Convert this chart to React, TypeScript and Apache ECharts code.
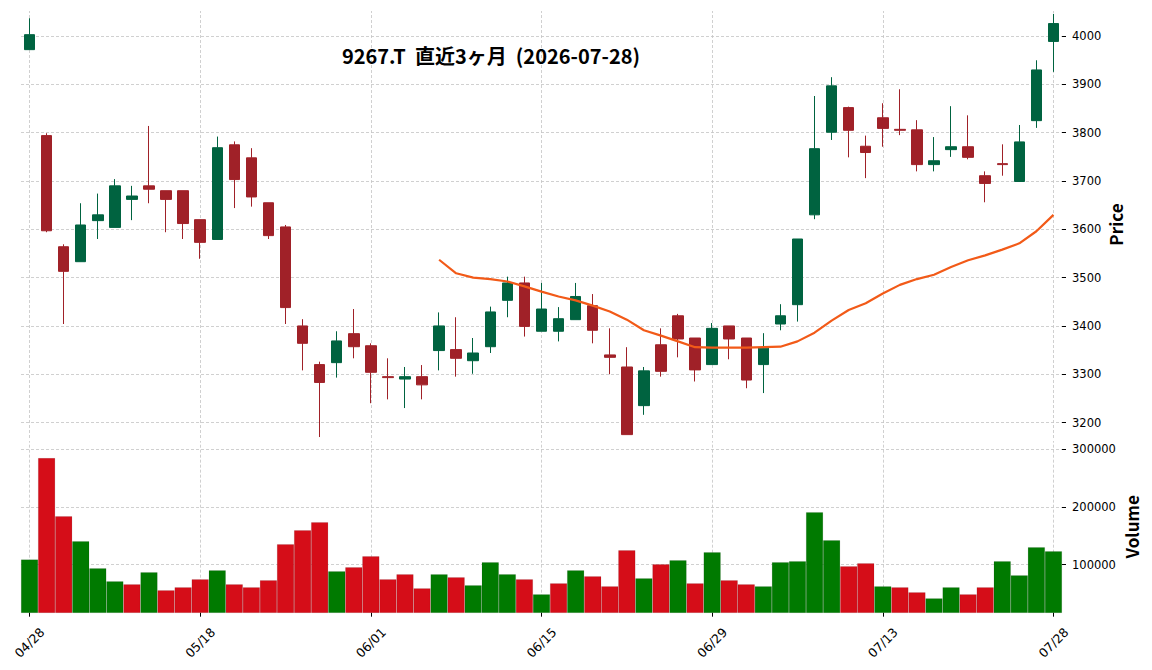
import React, { useEffect, useRef } from 'react';
import * as echarts from 'echarts';

const dates = [
  '04/28', '04/30', '05/01', '05/07', '05/08', '05/11', '05/12', '05/13', '05/14', '05/15',
  '05/18', '05/19', '05/20', '05/21', '05/22', '05/25', '05/26', '05/27', '05/28', '05/29',
  '06/01', '06/02', '06/03', '06/04', '06/05', '06/08', '06/09', '06/10', '06/11', '06/12',
  '06/15', '06/16', '06/17', '06/18', '06/19', '06/22', '06/23', '06/24', '06/25', '06/26',
  '06/29', '06/30', '07/01', '07/02', '07/03', '07/06', '07/07', '07/08', '07/09', '07/10',
  '07/13', '07/14', '07/15', '07/16', '07/17', '07/21', '07/22', '07/23', '07/24', '07/27',
  '07/28',
];

const opens = [
  3972, 3794, 3564, 3533, 3618, 3604, 3662, 3690, 3680, 3680,
  3620, 3579, 3775, 3748, 3655, 3605, 3400, 3320, 3324, 3384,
  3359, 3295, 3290, 3295, 3349, 3351, 3328, 3357, 3453, 3489,
  3389, 3389, 3413, 3442, 3340, 3315, 3235, 3361, 3421, 3375,
  3320, 3400, 3375, 3320, 3404, 3444, 3630, 3801, 3852, 3772,
  3831, 3807, 3806, 3734, 3765, 3771, 3711, 3736, 3699, 3825,
  3989,
];
const closes = [
  4003, 3597, 3513, 3609, 3630, 3690, 3669, 3683, 3662, 3612,
  3573, 3769, 3703, 3667, 3587, 3438, 3364, 3283, 3369, 3357,
  3304, 3293, 3295, 3278, 3400, 3333, 3344, 3429, 3489, 3399,
  3435, 3415, 3461, 3391, 3335, 3175, 3307, 3306, 3373, 3309,
  3395, 3373, 3288, 3354, 3421, 3580, 3767, 3897, 3805, 3759,
  3809, 3805, 3734, 3742, 3771, 3749, 3695, 3734, 3781, 3930,
  4026,
];
const lows = [
  3972, 3594, 3404, 3533, 3580, 3604, 3619, 3654, 3594, 3580,
  3539, 3579, 3644, 3647, 3580, 3404, 3308, 3170, 3293, 3333,
  3240, 3248, 3230, 3248, 3308, 3295, 3301, 3344, 3418, 3378,
  3389, 3368, 3413, 3364, 3300, 3175, 3216, 3295, 3335, 3285,
  3320, 3331, 3271, 3261, 3391, 3409, 3621, 3785, 3749, 3706,
  3771, 3795, 3720, 3720, 3750, 3745, 3656, 3711, 3699, 3810,
  3926,
];
const highs = [
  4037, 3799, 3569, 3654, 3674, 3704, 3690, 3814, 3680, 3680,
  3620, 3792, 3782, 3768, 3655, 3609, 3414, 3326, 3389, 3435,
  3364, 3333, 3315, 3319, 3428, 3418, 3375, 3440, 3502, 3502,
  3489, 3439, 3489, 3466, 3395, 3356, 3315, 3395, 3425, 3375,
  3406, 3400, 3375, 3385, 3445, 3580, 3876, 3915, 3854, 3794,
  3861, 3890, 3826, 3791, 3855, 3836, 3720, 3776, 3816, 3950,
  4046,
];

const volumes = [
  109000, 284900, 184000, 140600, 93600, 71000, 65800, 86700, 55400, 60600,
  74500, 90100, 65800, 60600, 72800, 135400, 159700, 173600, 88400, 95400,
  114500, 74500, 83200, 58800, 83200, 78000, 64100, 104100, 83200, 74500,
  48400, 67500, 90100, 79700, 62300, 124900, 76200, 100600, 107500, 67500,
  121400, 72800, 65800, 62300, 104100, 105800, 191000, 142300, 97100, 102300,
  62300, 60600, 51900, 41400, 60600, 48400, 60600, 105800, 81400, 130100,
  123200,
];
// 1 = close above previous close (green volume), 0 = below (red volume)
const volumeUp = [
  1, 0, 0, 1, 1, 1, 0, 1, 0, 0,
  0, 1, 0, 0, 0, 0, 0, 0, 1, 0,
  0, 0, 0, 0, 1, 0, 1, 1, 1, 0,
  1, 0, 1, 0, 0, 0, 1, 0, 1, 0,
  1, 0, 0, 1, 1, 1, 1, 1, 0, 0,
  1, 0, 0, 1, 1, 0, 0, 1, 1, 1,
  1,
];

const ma25 = [
  null, null, null, null, null, null, null, null, null, null,
  null, null, null, null, null, null, null, null, null, null,
  null, null, null, null, 3537, 3509, 3500, 3497, 3492, 3482,
  3471, 3461, 3453, 3442, 3430, 3413, 3391, 3380, 3368, 3356,
  3355, 3355, 3355, 3356, 3357, 3368, 3386, 3411, 3433, 3447,
  3467, 3485, 3497, 3506, 3522, 3536, 3546, 3558, 3571, 3596,
  3630,
];

const gridDates = ['04/28', '05/18', '06/01', '06/15', '06/29', '07/13', '07/28'];

const TITLE = '9267.T  直近3ヶ月  (2026-07-28)';

const UP = '#006340';
const DOWN = '#a02128';
const VOL_UP = '#007a00';
const VOL_DOWN = '#d50d18';
const GRID_COLOR = '#c4c4c4';

export default function App() {
  const ref = useRef<HTMLDivElement>(null);

  useEffect(() => {
    if (!ref.current) return;
    const chart = echarts.init(ref.current, null, { renderer: 'svg' });

    const candleData = dates.map((_, i) => [opens[i], closes[i], lows[i], highs[i]]);
    const volData = volumes.map((v, i) => ({
      value: v,
      itemStyle: { color: volumeUp[i] ? VOL_UP : VOL_DOWN },
    }));
    const vLines = gridDates.map((d) => ({ xAxis: d }));
    const markLineCommon = {
      silent: true,
      z: 0,
      symbol: ['none', 'none'],
      label: { show: false },
      lineStyle: { type: [3, 2], color: GRID_COLOR, width: 0.8 },
      emphasis: { disabled: true },
      animation: false,
      data: vLines,
    };
    const tickFont = { fontFamily: 'DejaVu Sans', fontSize: 11.5, color: '#000' };
    const nameFont = { fontFamily: 'Noto Sans CJK JP', fontSize: 17, fontWeight: 'bold', color: '#000' };
    const splitLine = {
      show: true,
      showMinLine: false,
      showMaxLine: false,
      lineStyle: { type: [3, 2], color: GRID_COLOR, width: 0.8 },
    };
    const plain = (v: number) => String(v);

    chart.setOption({
      animation: false,
      backgroundColor: '#ffffff',
      graphic: [
        {
          type: 'text',
          x: 491,
          y: 55,
          style: {
            text: TITLE,
            textAlign: 'center',
            textVerticalAlign: 'middle',
            fontFamily: 'Noto Sans CJK JP',
            fontWeight: 'bold',
            fontSize: 20,
            fill: '#000',
          },
          z: 100,
        },
      ],
      grid: [
        { left: 21, right: 90, top: 11, height: 427 },
        { left: 21, right: 90, top: 441, height: 171.7 },
      ],
      xAxis: [
        {
          type: 'category',
          gridIndex: 0,
          data: dates,
          boundaryGap: true,
          axisLine: { show: false },
          axisTick: { show: false },
          axisLabel: { show: false },
          splitLine: { show: false },
        },
        {
          type: 'category',
          gridIndex: 1,
          data: dates,
          boundaryGap: true,
          axisLine: { show: false },
          axisTick: { show: true, alignWithLabel: true, interval: 9, length: 4, lineStyle: { color: '#000', width: 1 } },
          axisLabel: {
            show: true,
            interval: 9,
            rotate: 45,
            margin: 30,
            align: 'center',
            verticalAlign: 'middle',
            fontFamily: 'DejaVu Sans',
            fontSize: 12.5,
            color: '#000',
          },
          splitLine: { show: false },
        },
      ],
      yAxis: [
        {
          type: 'value',
          gridIndex: 0,
          position: 'right',
          min: 3168,
          max: 4052,
          minInterval: 100,
          maxInterval: 100,
          splitNumber: 9,
          name: 'Price',
          nameLocation: 'middle',
          nameRotate: 90,
          nameGap: 45,
          nameMoveOverlap: false,
          nameTextStyle: nameFont,
          axisLine: { show: false },
          axisTick: { show: true, length: 4, lineStyle: { color: '#000' } },
          axisLabel: { show: true, margin: 10, showMinLabel: false, showMaxLabel: false, formatter: plain, ...tickFont },
          splitLine,
        },
        {
          type: 'value',
          gridIndex: 1,
          position: 'right',
          min: 16500,
          max: 314600,
          minInterval: 100000,
          maxInterval: 100000,
          splitNumber: 3,
          name: 'Volume',
          nameLocation: 'middle',
          nameRotate: 90,
          nameGap: 61,
          nameMoveOverlap: false,
          nameTextStyle: nameFont,
          axisLine: { show: false },
          axisTick: { show: true, length: 4, lineStyle: { color: '#000' } },
          axisLabel: { show: true, margin: 10, showMinLabel: false, showMaxLabel: false, formatter: plain, ...tickFont },
          splitLine,
        },
      ],
      series: [
        {
          type: 'line',
          xAxisIndex: 0,
          yAxisIndex: 0,
          data: [],
          z: 0,
          silent: true,
          markLine: markLineCommon,
        },
        {
          type: 'line',
          xAxisIndex: 1,
          yAxisIndex: 1,
          data: [],
          z: 0,
          silent: true,
          markLine: markLineCommon,
        },
        {
          type: 'candlestick',
          name: 'Price',
          xAxisIndex: 0,
          yAxisIndex: 0,
          data: candleData,
          barWidth: 11,
          z: 3,
          itemStyle: {
            color: UP,
            color0: DOWN,
            borderColor: UP,
            borderColor0: DOWN,
            borderWidth: 1,
          },
        },
        {
          type: 'line',
          name: 'MA25',
          xAxisIndex: 0,
          yAxisIndex: 0,
          data: ma25,
          showSymbol: false,
          symbol: 'none',
          z: 4,
          lineStyle: { color: '#f25a18', width: 2.2 },
        },
        {
          type: 'bar',
          name: 'Volume',
          xAxisIndex: 1,
          yAxisIndex: 1,
          data: volData,
          barCategoryGap: '0%',
          z: 3,
          itemStyle: { borderColor: 'rgba(0,0,0,0.18)', borderWidth: 0.5 },
        },
      ],
    });

    return () => chart.dispose();
  }, []);

  return (
    <div
      ref={ref}
      style={{ position: 'fixed', left: 0, top: 0, width: 1152, height: 670, background: '#fff' }}
    />
  );
}
